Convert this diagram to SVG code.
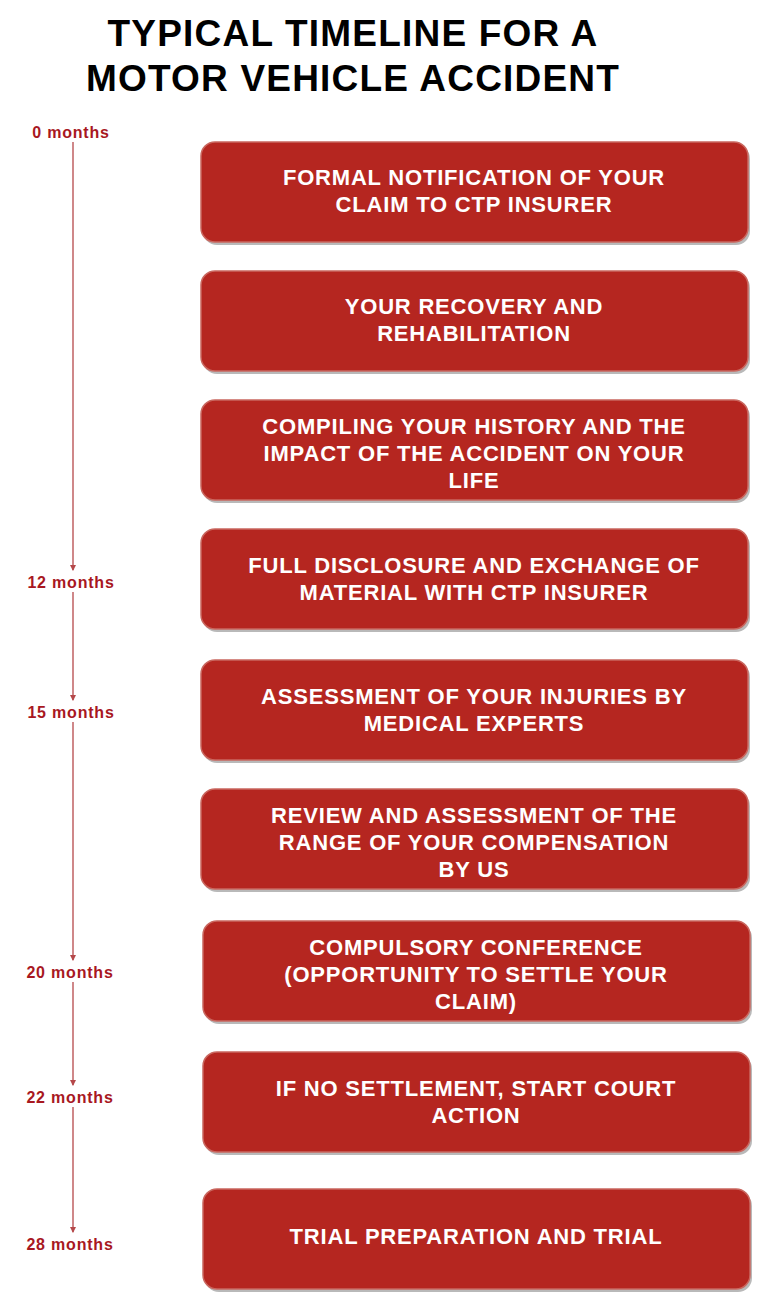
<svg xmlns="http://www.w3.org/2000/svg" width="768" height="1307" viewBox="0 0 768 1307">
<defs>
<style>
.t{font-family:"Liberation Sans",Arial,sans-serif;font-weight:bold}
.title{font-size:37px;fill:#000;text-anchor:middle;letter-spacing:1.2px}
.m{font-size:16px;fill:#a8181f;text-anchor:middle;letter-spacing:0.8px}
.b{fill:#b52620;stroke:#c9675f;stroke-width:1.5}
.sh{fill:#8a8a8a;opacity:0.6}
.bt{font-size:22px;fill:#fff;text-anchor:middle;letter-spacing:0.8px}
.c{stroke:#b5484a;stroke-width:1.3;fill:none}
</style>
<marker id="a" viewBox="0 0 6 6" refX="5" refY="3" markerWidth="5" markerHeight="5" orient="auto"><path d="M0,0L6,3L0,6z" fill="#b5484a"/></marker>
</defs>
<rect width="768" height="1307" fill="#fff"/>
<text class="t title" x="353" y="46">TYPICAL TIMELINE FOR A</text>
<text class="t title" x="353" y="91">MOTOR VEHICLE ACCIDENT</text>
<g id="labels">
<text class="t m" x="71" y="138">0 months</text>
<text class="t m" x="71" y="588">12 months</text>
<text class="t m" x="71" y="718">15 months</text>
<text class="t m" x="70" y="978">20 months</text>
<text class="t m" x="70" y="1103">22 months</text>
<text class="t m" x="70" y="1250">28 months</text>
</g>
<g id="connectors">
<path class="c" d="M73,142V570" marker-end="url(#a)"/>
<path class="c" d="M73,592V700" marker-end="url(#a)"/>
<path class="c" d="M73,722V960" marker-end="url(#a)"/>
<path class="c" d="M73,982V1085" marker-end="url(#a)"/>
<path class="c" d="M73,1107V1232" marker-end="url(#a)"/>
</g>
<g id="n1"><rect class="sh" x="203" y="145" width="547" height="100" rx="14"/><rect class="b" x="201" y="142" width="547" height="100" rx="14"/><text class="t bt" x="474" y="185">FORMAL NOTIFICATION OF YOUR</text><text class="t bt" x="474" y="212">CLAIM TO CTP INSURER</text></g>
<g id="n2"><rect class="sh" x="203" y="274" width="547" height="100" rx="14"/><rect class="b" x="201" y="271" width="547" height="100" rx="14"/><text class="t bt" x="474" y="314">YOUR RECOVERY AND</text><text class="t bt" x="474" y="341">REHABILITATION</text></g>
<g id="n3"><rect class="sh" x="203" y="403" width="547" height="100" rx="14"/><rect class="b" x="201" y="400" width="547" height="100" rx="14"/><text class="t bt" x="474" y="434">COMPILING YOUR HISTORY AND THE</text><text class="t bt" x="474" y="461">IMPACT OF THE ACCIDENT ON YOUR</text><text class="t bt" x="474" y="488">LIFE</text></g>
<g id="n4"><rect class="sh" x="203" y="532" width="547" height="100" rx="14"/><rect class="b" x="201" y="529" width="547" height="100" rx="14"/><text class="t bt" x="474" y="573">FULL DISCLOSURE AND EXCHANGE OF</text><text class="t bt" x="474" y="600">MATERIAL WITH CTP INSURER</text></g>
<g id="n5"><rect class="sh" x="203" y="663" width="547" height="100" rx="14"/><rect class="b" x="201" y="660" width="547" height="100" rx="14"/><text class="t bt" x="474" y="704">ASSESSMENT OF YOUR INJURIES BY</text><text class="t bt" x="474" y="731">MEDICAL EXPERTS</text></g>
<g id="n6"><rect class="sh" x="203" y="792" width="547" height="100" rx="14"/><rect class="b" x="201" y="789" width="547" height="100" rx="14"/><text class="t bt" x="474" y="823">REVIEW AND ASSESSMENT OF THE</text><text class="t bt" x="474" y="850">RANGE OF YOUR COMPENSATION</text><text class="t bt" x="474" y="877">BY US</text></g>
<g id="n7"><rect class="sh" x="205" y="924" width="547" height="100" rx="14"/><rect class="b" x="203" y="921" width="547" height="100" rx="14"/><text class="t bt" x="476" y="955">COMPULSORY CONFERENCE</text><text class="t bt" x="476" y="982">(OPPORTUNITY TO SETTLE YOUR</text><text class="t bt" x="476" y="1009">CLAIM)</text></g>
<g id="n8"><rect class="sh" x="205" y="1055" width="547" height="100" rx="14"/><rect class="b" x="203" y="1052" width="547" height="100" rx="14"/><text class="t bt" x="476" y="1096">IF NO SETTLEMENT, START COURT</text><text class="t bt" x="476" y="1123">ACTION</text></g>
<g id="n9"><rect class="sh" x="205" y="1192" width="547" height="100" rx="14"/><rect class="b" x="203" y="1189" width="547" height="100" rx="14"/><text class="t bt" x="476" y="1244">TRIAL PREPARATION AND TRIAL</text></g>
</svg>
